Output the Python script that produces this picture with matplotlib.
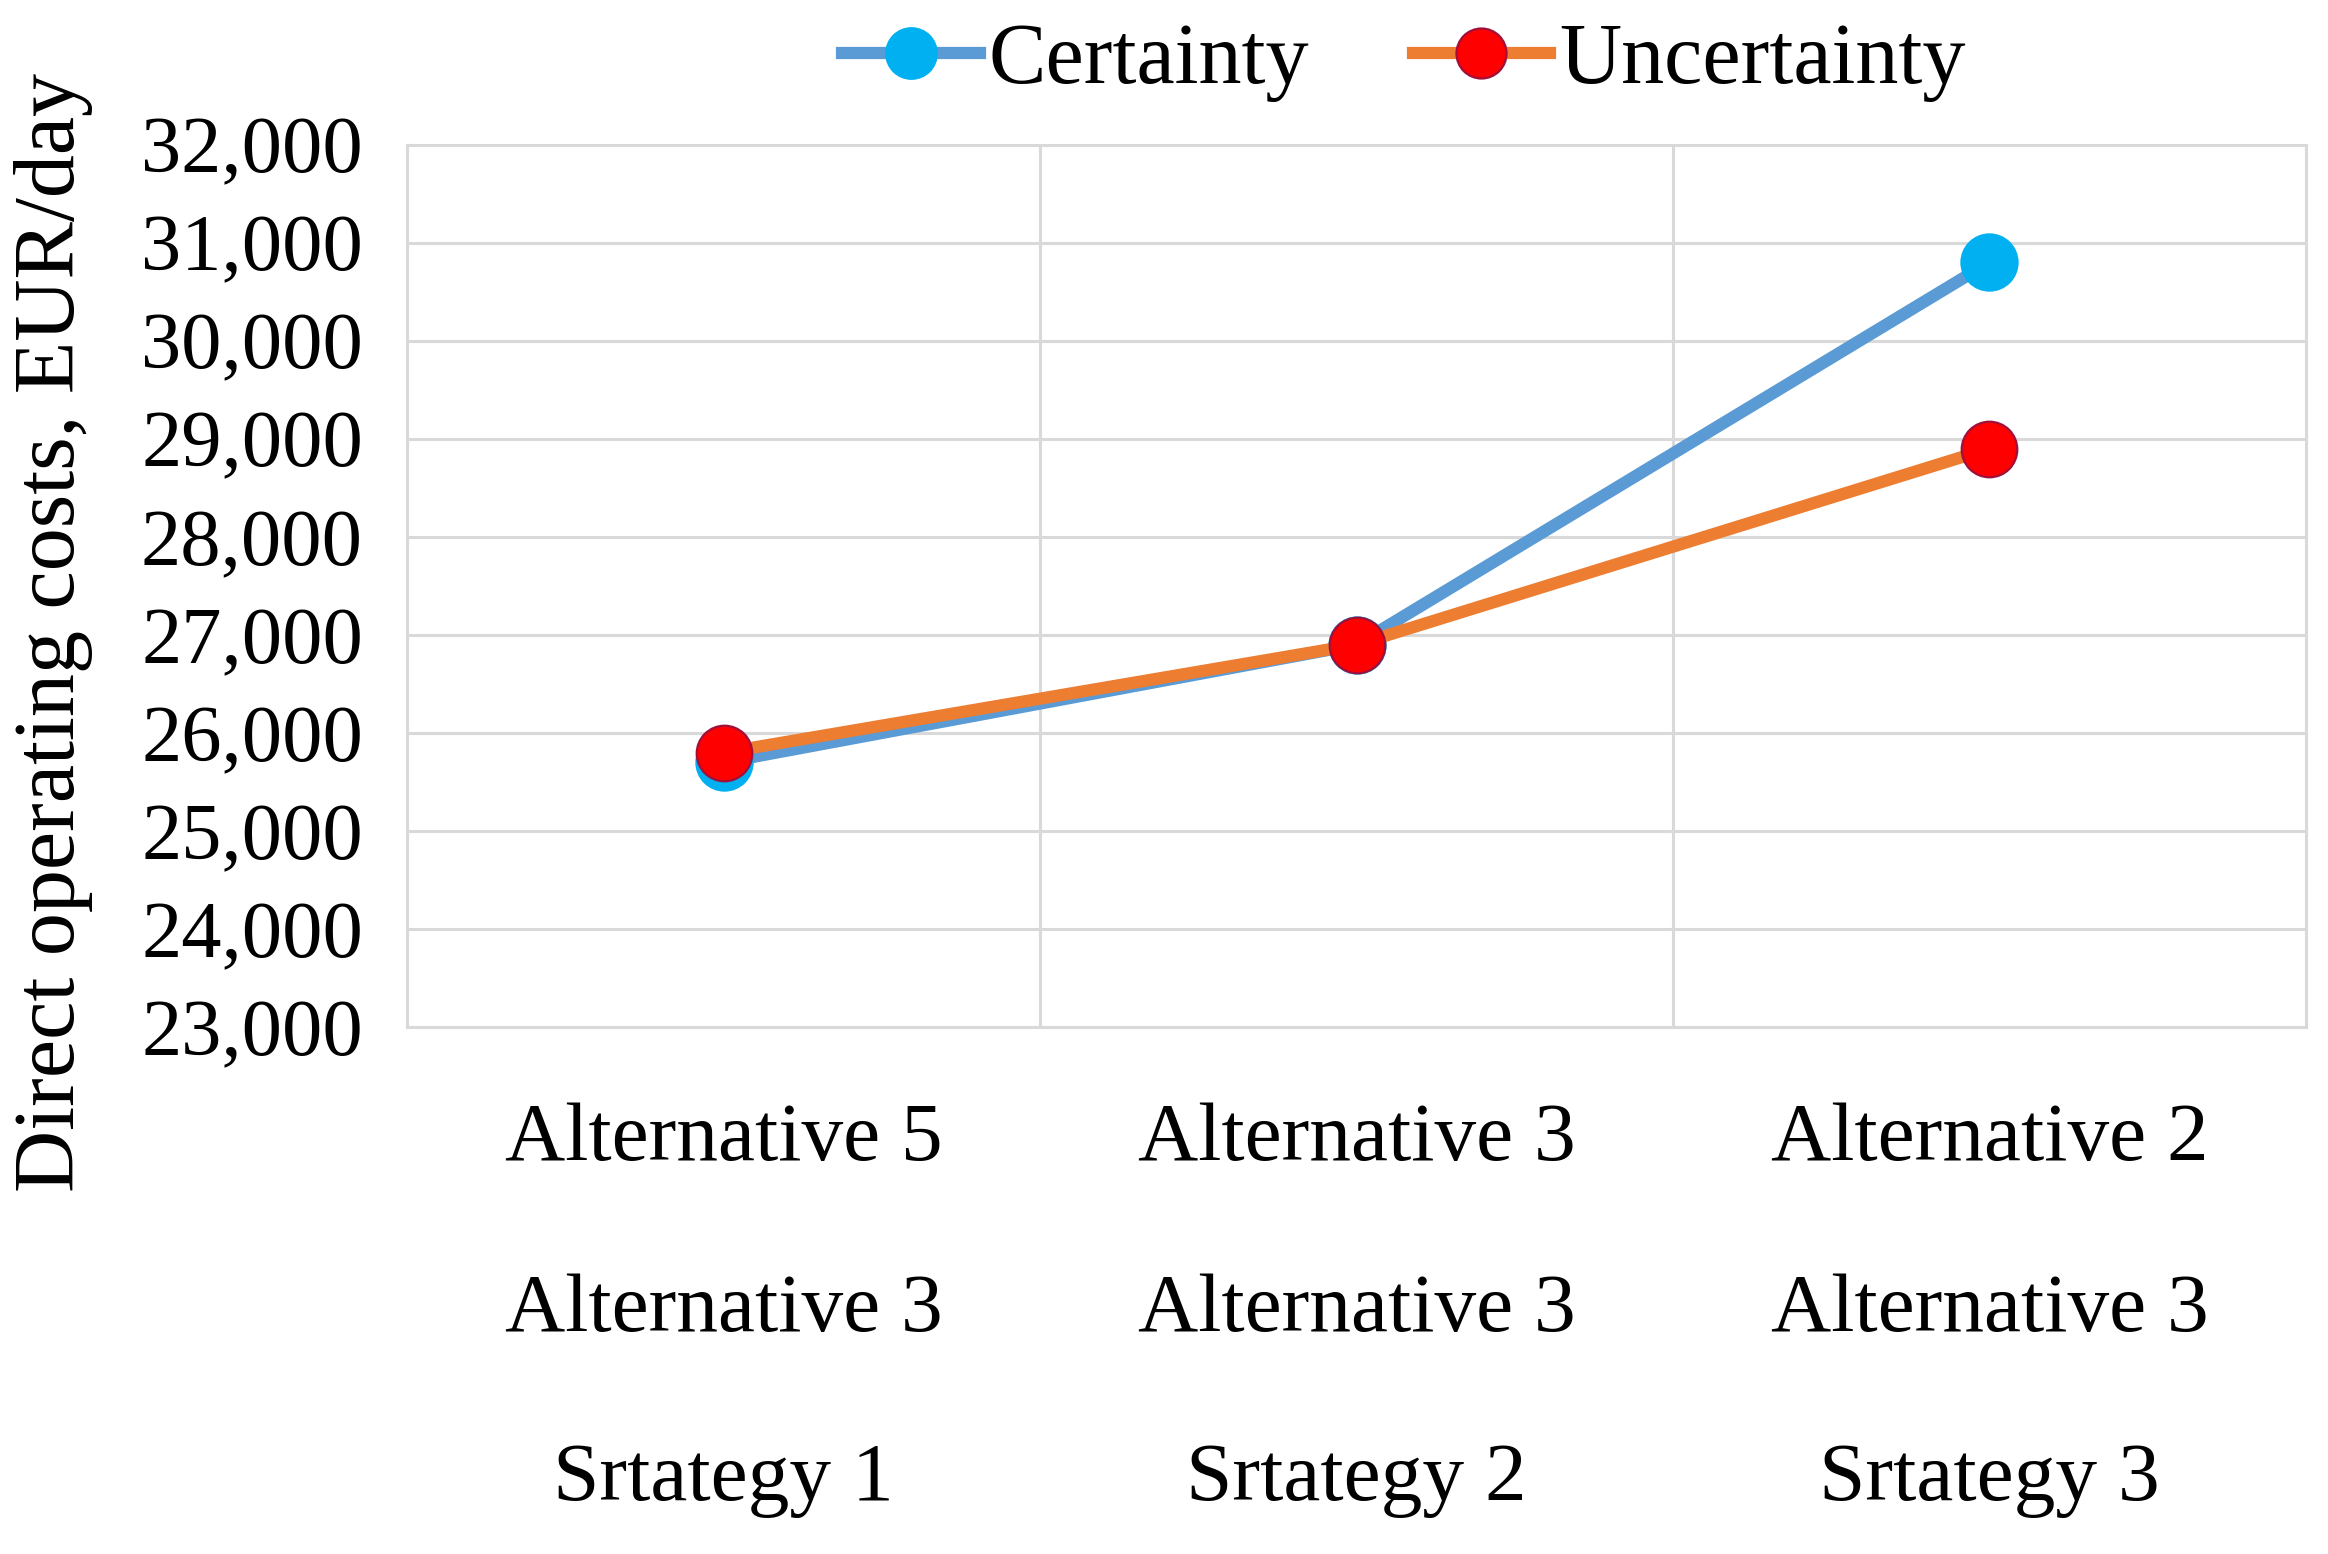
import matplotlib.pyplot as plt
from matplotlib.ticker import FuncFormatter

# data
row1 = ['Alternative 5', 'Alternative 3', 'Alternative 2']
row2 = ['Alternative 3', 'Alternative 3', 'Alternative 3']
row3 = ['Srtategy 1', 'Srtategy 2', 'Srtategy 3']
certainty = [25700, 26900, 30800]
uncertainty = [25800, 26900, 28900]

plt.rcParams['font.family'] = ['Liberation Serif', 'DejaVu Serif']

fig = plt.figure(figsize=(11.64, 7.77), dpi=200)
ax = fig.add_axes([0.175, 0.339, 0.8155, 0.568])

x = list(range(len(row1)))
grid_col = '#D9D9D9'

ax.plot(x, certainty, color='#5B9BD5', lw=4.4, marker='o', markersize=20,
        markerfacecolor='#00B0F0', markeredgecolor='#00B0F0', label='Certainty', zorder=3)
ax.plot(x, uncertainty, color='#ED7D31', lw=4.4, marker='o', markersize=20,
        markerfacecolor='#FF0000', markeredgecolor='#A0103A', markeredgewidth=0.8,
        label='Uncertainty', zorder=4)

ax.set_xlim(-0.5, 2.5)
ax.set_ylim(23000, 32000)
ax.set_yticks(range(23000, 32001, 1000))
ax.yaxis.set_major_formatter(FuncFormatter(lambda v, p: f'{int(v):,}'))
ax.tick_params(axis='y', labelsize=29, length=0, pad=16)
ax.set_xticks([0.5, 1.5])
ax.set_xticklabels([])
ax.tick_params(axis='x', length=0)
ax.grid(True, color=grid_col, lw=1.1)
ax.set_axisbelow(True)
for s in ax.spines.values():
    s.set_color(grid_col)
    s.set_linewidth(1.1)

# three rows of category labels
for i in x:
    for txt, yy in zip([row1[i], row2[i], row3[i]], [-0.128, -0.322, -0.513]):
        ax.text(i, yy, txt, transform=ax.get_xaxis_transform(), ha='center', va='center',
                fontsize=30, clip_on=False)

fig.text(0.023, 0.593, 'Direct operating costs, EUR/day', rotation=90, ha='center',
         va='center', fontsize=31)

fig.legend(loc='center', bbox_to_anchor=(0.603, 0.96), ncol=2, frameon=False,
           fontsize=31, handlelength=1.6, handletextpad=0.1, columnspacing=1.2,
           markerscale=0.9)

plt.savefig('out.png', dpi=200)
